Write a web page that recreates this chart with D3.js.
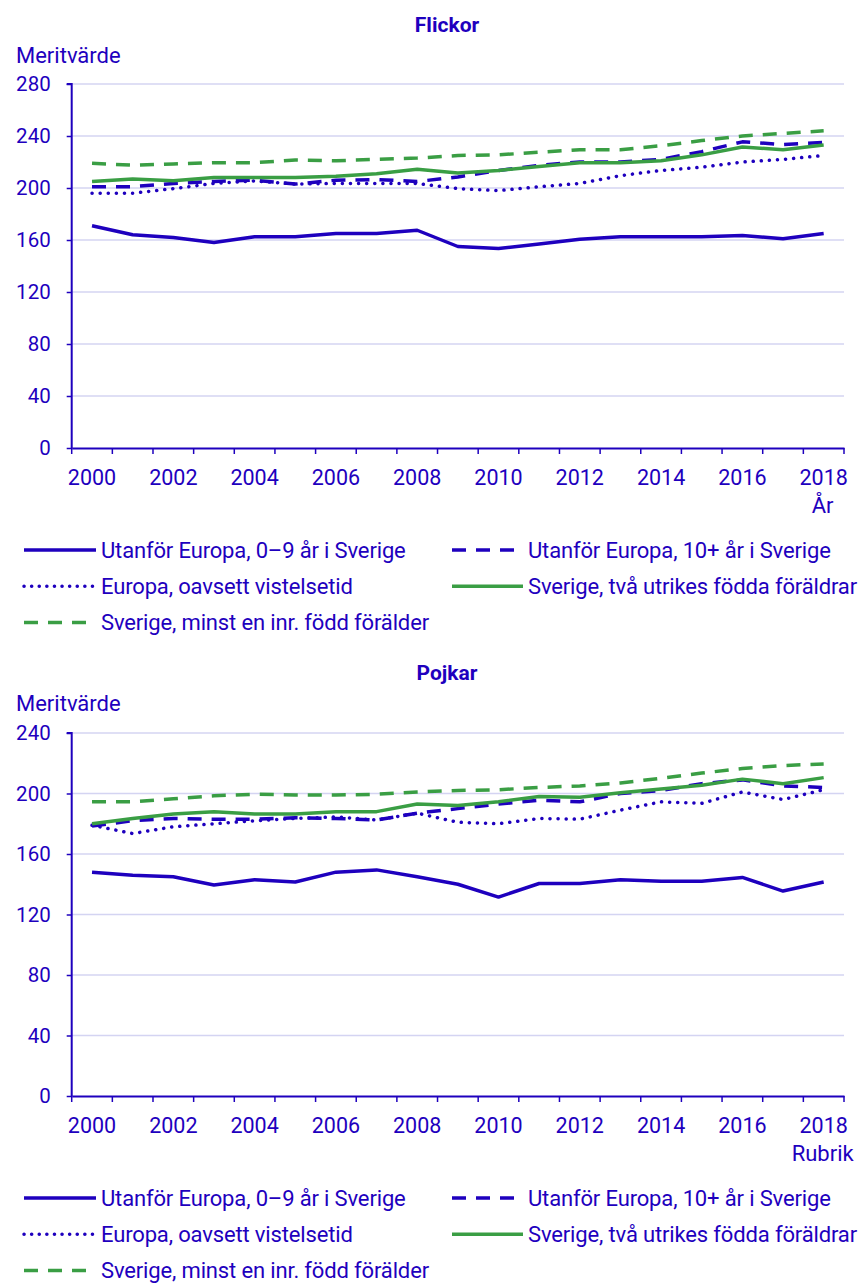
<!DOCTYPE html>
<html><head><meta charset="utf-8">
<script src="https://cdn.jsdelivr.net/npm/d3@7"></script>
<style>
html,body{margin:0;padding:0;background:#fff;}
svg{display:block;font-family:Roboto,"Noto Sans",sans-serif;}
text{fill:#1E00BE;}
</style></head><body>
<svg id="c" width="861" height="1284"></svg>
<script>
const years = [2000,2001,2002,2003,2004,2005,2006,2007,2008,2009,2010,2011,2012,2013,2014,2015,2016,2017,2018];
const yearLabels = [2000,2002,2004,2006,2008,2010,2012,2014,2016,2018];
const seriesNames = ["Utanför Europa, 0–9 år i Sverige","Utanför Europa, 10+ år i Sverige","Europa, oavsett vistelsetid","Sverige, två utrikes födda föräldrar","Sverige, minst en inr. född förälder"];

// Flickor
const flickorUtanfor09 = [171,164,162,158,162.5,162.5,165,165,167.5,155,153.5,157,160.5,162.5,162.5,162.5,163.5,161,165];
const flickorUtanfor10 = [201,201,203.5,205,206,203,206,206.5,205,208.5,213.5,217.5,220,220,222,228,235.5,233.5,235];
const flickorEuropa = [196,196,199.5,203.5,205.5,203,203.5,203.5,203.5,199.5,198,201,203.5,209.5,213.5,216,220,222,225];
const flickorSverigeTva = [205,207,205.5,208,208,208,209,211,214.5,211.5,213.5,216.5,219.5,219.5,221,225.5,231.5,229.5,233];
const flickorSverigeInr = [219,217.5,218.5,219.5,219.5,221.5,221,222,223,225,225.5,227.5,229.5,229.5,232.5,236.5,240,242,244];
const flickorTicks = [0,40,80,120,160,200,240,280];

// Pojkar
const pojkarUtanfor09 = [148,146,145,139.5,143,141.5,148,149.5,145,140,131.5,140.5,140.5,143,142,142,144.5,135.5,141.5];
const pojkarUtanfor10 = [178.5,182,183.5,183,183,184,183.5,182.5,187,190,193,195.5,194.5,200,202,206.5,209,205,204];
const pojkarEuropa = [179,173.5,178,180,182,183.5,184.5,182.5,187,181,180,183.5,183,189,194.5,193.5,201,196,202.5];
const pojkarSverigeTva = [180,183.5,186.5,188,186.5,186.5,188,188,193,192,194.5,198,197.5,200.5,203,205.5,209.5,206.5,210.5];
const pojkarSverigeInr = [194.5,194.5,196.5,198.5,199.5,199,199,199.5,201,202,202.5,204,205,207,210,213.5,216.5,218.5,219.5];
const pojkarTicks = [0,40,80,120,160,200,240];

const BLUE="#1E00BE", GREEN="#3A9E44", GRID="#D4D4F2";
const styles = [
  {color:BLUE, dash:null, cap:"butt"},
  {color:BLUE, dash:"14 10", cap:"butt"},
  {color:BLUE, dash:"0.1 8", cap:"round"},
  {color:GREEN, dash:null, cap:"butt"},
  {color:GREEN, dash:"14 10", cap:"butt"}
];

const svg = d3.select("#c");

function drawChart(cfg){
  const g = svg.append("g");
  const x = d3.scaleBand().domain(years).range([71.7,844]).paddingInner(0).paddingOuter(0);
  const y = d3.scaleLinear().domain([0,cfg.ymax]).range([cfg.y0,cfg.ytop]);
  // title
  g.append("text").attr("x",447).attr("y",cfg.titleY).attr("text-anchor","middle")
    .attr("font-weight","bold").attr("font-size",21).text(cfg.title);
  g.append("text").attr("x",16).attr("y",cfg.ylabY).attr("font-size",22).text("Meritvärde");
  // grid
  g.append("g").selectAll("line").data(cfg.ticks.filter(d=>d>0)).join("line")
    .attr("x1",71.7).attr("x2",844).attr("y1",d=>y(d)).attr("y2",d=>y(d))
    .attr("stroke",GRID).attr("stroke-width",1.5);
  // y axis
  const ya = g.append("g").attr("transform","translate(71.7,0)")
    .call(d3.axisLeft(y).tickValues(cfg.ticks).tickSize(5).tickPadding(16).tickFormat(d3.format("d")));
  ya.select(".domain").attr("stroke",BLUE).attr("stroke-width",2).attr("d",`M-5,${y(cfg.ymax)}H0V${y(0)}`);
  ya.selectAll(".tick line").attr("stroke",BLUE).attr("stroke-width",1.5);
  ya.selectAll(".tick text").attr("font-size",20.5).attr("font-family","Roboto").attr("fill",BLUE);
  // x axis labels
  const xa = g.append("g").attr("transform",`translate(0,${cfg.y0})`)
    .call(d3.axisBottom(x).tickValues(yearLabels).tickSize(0).tickPadding(22));
  xa.select(".domain").attr("stroke",BLUE).attr("stroke-width",2);
  xa.selectAll(".tick text").attr("font-size",21.5).attr("font-family","Roboto").attr("fill",BLUE);
  // boundary ticks
  const bounds = years.map(d=>x(d)).concat([x.range()[1]]);
  g.append("g").selectAll("line").data(bounds).join("line")
    .attr("x1",d=>d).attr("x2",d=>d).attr("y1",cfg.y0).attr("y2",cfg.y0+6)
    .attr("stroke",BLUE).attr("stroke-width",1.5);
  // axis title
  g.append("text").attr("x",x(2018)+x.bandwidth()/2-1).attr("y",cfg.y0+65)
    .attr("text-anchor","middle").attr("font-size",22).text(cfg.xTitle);
  // lines
  const line = d3.line().x((d,i)=>x(years[i])+x.bandwidth()/2).y(d=>y(d));
  cfg.series.forEach((s,k)=>{
    const st = styles[k];
    g.append("path").datum(s).attr("d",line).attr("fill","none")
      .attr("stroke",st.color).attr("stroke-width",3.5)
      .attr("stroke-dasharray",st.dash).attr("stroke-linecap",st.cap).attr("stroke-linejoin","round");
  });
  // legend
  const pos = [[0,0],[1,0],[0,1],[1,1],[0,2]];
  const colX = [[24,96,101],[452,523,528]];
  seriesNames.forEach((n,k)=>{
    const st = styles[k];
    const [c,r] = pos[k];
    const ly = cfg.legY + r*36.3;
    g.append("line").attr("x1",colX[c][0]).attr("x2",colX[c][1]).attr("y1",ly).attr("y2",ly)
      .attr("stroke",st.color).attr("stroke-width",3.5).attr("stroke-dasharray",st.dash==="0.1 8"?"0.1 7.5":st.dash)
      .attr("stroke-linecap",st.cap);
    g.append("text").attr("x",colX[c][2]).attr("y",ly).attr("dy","0.35em")
      .attr("font-size",22).attr("letter-spacing",-0.15).text(n);
  });
}

drawChart({title:"Flickor",titleY:32,ylabY:63,ymax:280,y0:448,ytop:84,ticks:flickorTicks,xTitle:"År",
  series:[flickorUtanfor09,flickorUtanfor10,flickorEuropa,flickorSverigeTva,flickorSverigeInr],legY:550});
drawChart({title:"Pojkar",titleY:680,ylabY:711,ymax:240,y0:1096,ytop:733,ticks:pojkarTicks,xTitle:"Rubrik",
  series:[pojkarUtanfor09,pojkarUtanfor10,pojkarEuropa,pojkarSverigeTva,pojkarSverigeInr],legY:1198});
</script>
</body></html>
